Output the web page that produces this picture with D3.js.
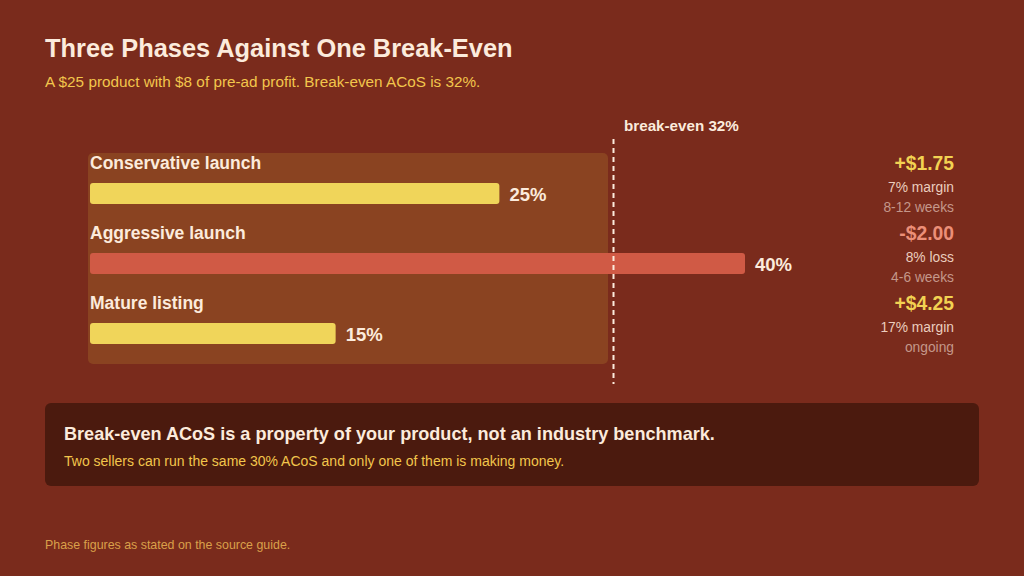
<!DOCTYPE html>
<html><head><meta charset="utf-8">
<script src="https://cdn.jsdelivr.net/npm/d3@7"></script>
<style>
html,body{margin:0;padding:0;background:#7A2B1C;}
svg{display:block;font-family:"Liberation Sans",Arial,Helvetica,sans-serif;}
</style></head>
<body>
<svg id="chart" width="1024" height="576"></svg>
<script>
const phases = ["Conservative launch","Aggressive launch","Mature listing"];
const acos = [25, 40, 15];
const profits = ["+$1.75","-$2.00","+$4.25"];
const marginNotes = ["7% margin","8% loss","17% margin"];
const durations = ["8-12 weeks","4-6 weeks","ongoing"];
const breakEven = 32;

const W = 1024, H = 576;
const svg = d3.select("#chart");
svg.append("rect").attr("width",W).attr("height",H).attr("fill","#7A2B1C");

svg.append("text").attr("x",45).attr("y",57).attr("fill","#FCEBDC")
  .attr("font-size",25.4).attr("font-weight","bold").text("Three Phases Against One Break-Even");
svg.append("text").attr("x",45).attr("y",87).attr("fill","#F2C64C")
  .attr("font-size",15.3).text("A $25 product with $8 of pre-ad profit. Break-even ACoS is 32%.");

const x = d3.scaleLinear().domain([0,40]).range([90,745]);
const y = d3.scaleBand().domain(phases).range([153,363]).padding(0);

// safe zone panel
svg.append("rect").attr("x",x(0)-2).attr("y",y.range()[0])
  .attr("width",x(breakEven)-6-(x(0)-2)).attr("height",y.range()[1]-y.range()[0]+1)
  .attr("rx",5).attr("fill","#8A4321");

const rows = svg.selectAll("g.row").data(phases).join("g").attr("class","row")
  .attr("transform",d=>`translate(0,${y(d)})`);

rows.append("text").attr("x",x(0)).attr("y",16).attr("fill","#FCEBDC")
  .attr("font-size",17.5).attr("font-weight","bold").text(d=>d);

rows.append("rect").attr("x",x(0)).attr("y",30)
  .attr("width",(d,i)=>x(acos[i])-x(0)).attr("height",21).attr("rx",3)
  .attr("fill",(d,i)=>acos[i]>breakEven?"#D05A45":"#F0D55A");

rows.append("text").attr("x",(d,i)=>x(acos[i])+10).attr("y",48)
  .attr("fill","#FCEBDC").attr("font-size",18.5).attr("font-weight","bold")
  .text((d,i)=>acos[i]+"%");

rows.append("text").attr("x",954).attr("y",17).attr("text-anchor","end")
  .attr("font-size",19.3).attr("font-weight","bold")
  .attr("fill",(d,i)=>profits[i].startsWith("-")?"#EC8F78":"#F2D252")
  .text((d,i)=>profits[i]);
rows.append("text").attr("x",954).attr("y",39).attr("text-anchor","end")
  .attr("font-size",13.8).attr("fill","#EBCDBE").text((d,i)=>marginNotes[i]);
rows.append("text").attr("x",954).attr("y",59).attr("text-anchor","end")
  .attr("font-size",13.8).attr("fill","#C4978A").text((d,i)=>durations[i]);

// break-even line
svg.append("line").attr("x1",x(breakEven)-0.5).attr("x2",x(breakEven)-0.5)
  .attr("y1",139).attr("y2",384).attr("stroke","#FCEBDC").attr("stroke-width",2)
  .attr("stroke-dasharray","5,4");
svg.append("text").attr("x",x(breakEven)+10).attr("y",131).attr("fill","#FCEBDC")
  .attr("font-size",15.2).attr("font-weight","bold").text("break-even "+breakEven+"%");

// callout
svg.append("rect").attr("x",45).attr("y",403).attr("width",934).attr("height",83)
  .attr("rx",6).attr("fill","#4B1A0E");
svg.append("text").attr("x",64).attr("y",440).attr("fill","#FCEBDC")
  .attr("font-size",18.1).attr("font-weight","bold")
  .text("Break-even ACoS is a property of your product, not an industry benchmark.");
svg.append("text").attr("x",64).attr("y",466).attr("fill","#F2C64C")
  .attr("font-size",14).text("Two sellers can run the same 30% ACoS and only one of them is making money.");

svg.append("text").attr("x",45).attr("y",549).attr("fill","#D9A04A")
  .attr("font-size",12.4).text("Phase figures as stated on the source guide.");
</script>
</body></html>
